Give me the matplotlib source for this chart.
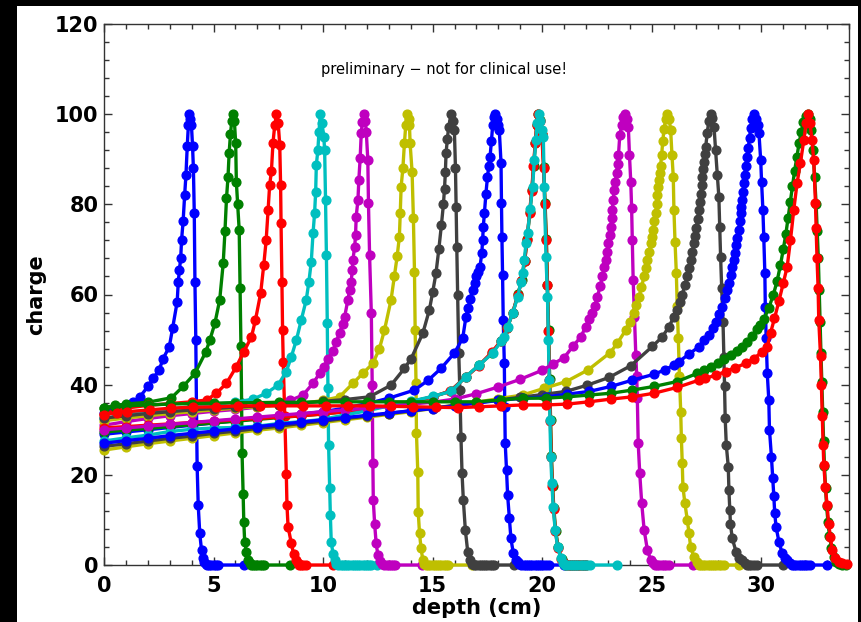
import numpy as np
import matplotlib.pyplot as plt
from matplotlib.patches import Rectangle
from matplotlib.ticker import MultipleLocator

d_b4 = [0.0, 0.5, 1.0, 1.34, 1.64, 2.02, 2.25, 2.52, 2.70, 2.98, 3.13, 3.34, 3.39, 3.44, 3.50,
        3.54, 3.61, 3.68, 3.74, 3.80, 3.85, 3.89, 3.94, 3.99, 4.04, 4.08, 4.12, 4.15, 4.19, 4.22,
        4.25, 4.30, 4.37, 4.45, 4.52, 4.58, 4.65, 4.72, 4.80, 4.90, 5.00, 5.10, 5.20, 6.40]
q_b4 = [33.8, 34.6, 35.4, 36.2, 37.3, 39.7, 41.4, 43.3, 45.8, 48.4, 52.5, 58.4, 62.8, 65.4, 68.0,
        72.1, 76.2, 82.0, 86.5, 93.0, 97.5, 100.0, 99.0, 97.6, 93.0, 88.0, 78.0, 62.8, 49.9, 35.0,
        22.0, 13.3, 7.0, 3.3, 1.5, 0.6, 0.2, 0.0, 0.0, 0.0, 0.0, 0.0, 0.0, 0.0]

d_g6 = [0.0, 0.5, 1.0, 2.0, 3.08, 3.61, 4.15, 4.65, 4.83, 5.06, 5.28, 5.44, 5.52, 5.59, 5.66,
        5.71, 5.77, 5.83, 5.89, 5.95, 6.01, 6.04, 6.10, 6.17, 6.21, 6.25, 6.28, 6.30, 6.35, 6.38,
        6.42, 6.50, 6.58, 6.65, 6.72, 6.80, 6.90, 7.00, 7.10, 7.20, 7.30, 8.50]
q_g6 = [34.8, 35.4, 35.7, 36.1, 37.1, 39.6, 42.5, 47.3, 49.9, 53.6, 58.8, 66.9, 74.0, 81.3, 86.1,
        91.3, 95.5, 98.5, 100.0, 98.5, 93.5, 85.0, 80.0, 74.3, 61.4, 48.6, 36.0, 24.9, 15.7, 9.6,
        5.2, 2.9, 1.2, 0.4, 0.0, 0.0, 0.0, 0.0, 0.0, 0.0, 0.0, 0.0]

d_r8 = [0.0, 0.5, 1.0, 2.0, 3.0, 4.0, 4.68, 5.13, 5.59, 6.04, 6.38, 6.73, 6.91, 7.15, 7.29,
        7.40, 7.49, 7.56, 7.64, 7.71, 7.79, 7.87, 7.95, 8.02, 8.06, 8.08, 8.12, 8.15, 8.18, 8.25,
        8.32, 8.35, 8.40, 8.55, 8.65, 8.78, 8.85, 8.92, 9.00, 9.10, 9.20, 10.45]
q_r8 = [33.5, 34.2, 34.8, 35.4, 35.8, 36.2, 36.6, 38.1, 40.3, 44.0, 47.3, 50.6, 54.3, 60.3, 66.5,
        72.0, 78.8, 84.3, 87.3, 93.5, 97.5, 100.0, 98.0, 93.2, 84.3, 75.8, 62.8, 52.1, 45.0, 33.0,
        20.2, 13.3, 8.5, 4.8, 2.5, 1.1, 0.4, 0.0, 0.0, 0.0, 0.0, 0.0]

d_c10 = [0.0, 1.0, 2.0, 3.0, 4.0, 5.0, 6.0, 6.8, 7.41, 7.94, 8.32, 8.55, 8.78, 9.00, 9.23,
         9.35, 9.46, 9.54, 9.61, 9.66, 9.69, 9.76, 9.81, 9.87, 9.95, 10.03, 10.07, 10.11, 10.15, 10.19,
         10.22, 10.25, 10.30, 10.33, 10.37, 10.45, 10.52, 10.60, 10.70, 10.80, 10.90, 11.00, 11.10, 11.20, 11.30,
         11.40, 11.50, 11.60, 11.70, 11.80, 11.90, 12.00, 12.10, 12.20, 12.45]
q_c10 = [32.5, 33.3, 34.0, 34.6, 35.1, 35.6, 36.1, 36.8, 38.1, 39.9, 42.9, 46.2, 49.9, 54.3, 58.8,
         62.8, 67.3, 73.6, 78.0, 82.8, 88.7, 92.0, 96.0, 100.0, 98.0, 95.0, 92.0, 81.0, 68.8, 53.6,
         39.2, 26.6, 17.0, 11.1, 5.2, 2.5, 1.1, 0.3, 0.0, 0.0, 0.0, 0.0, 0.0, 0.0, 0.0,
         0.0, 0.0, 0.0, 0.0, 0.0, 0.0, 0.0, 0.0, 0.0, 0.0]

d_m12 = [0.0, 1.0, 2.0, 3.0, 4.0, 5.0, 6.0, 7.0, 8.0, 8.5, 9.08, 9.54, 9.84, 10.05, 10.22,
         10.45, 10.60, 10.75, 10.90, 10.98, 11.13, 11.21, 11.28, 11.33, 11.36, 11.44, 11.48, 11.51, 11.59, 11.63,
         11.69, 11.74, 11.79, 11.86, 11.93, 11.97, 12.04, 12.07, 12.12, 12.20, 12.24, 12.27, 12.29, 12.35, 12.42,
         12.50, 12.60, 12.70, 12.80, 12.90, 13.00, 13.10, 13.20, 13.30, 14.50]
q_m12 = [31.0, 31.8, 32.5, 33.1, 33.6, 34.1, 34.5, 35.0, 35.6, 36.5, 37.7, 40.3, 42.5, 44.0, 45.8,
         47.5, 49.5, 51.5, 53.5, 55.0, 58.8, 61.0, 62.8, 65.4, 67.7, 70.6, 73.2, 77.3, 81.0, 85.4,
         90.2, 95.8, 98.3, 100.0, 98.5, 96.1, 89.8, 80.2, 68.8, 55.8, 40.0, 22.6, 14.4, 9.2, 4.8,
         2.2, 0.8, 0.2, 0.0, 0.0, 0.0, 0.0, 0.0, 0.0, 0.0]

d_y14 = [0.0, 1.0, 2.0, 3.0, 4.0, 5.0, 6.0, 7.0, 8.0, 9.0, 10.0, 10.75, 11.36, 11.81, 12.27,
         12.57, 12.80, 13.10, 13.25, 13.38, 13.48, 13.52, 13.56, 13.64, 13.71, 13.77, 13.82, 13.90, 13.94, 13.97,
         14.06, 14.12, 14.17, 14.20, 14.24, 14.26, 14.32, 14.34, 14.40, 14.47, 14.55, 14.62, 14.70, 14.80, 14.90,
         15.00, 15.10, 15.20, 15.30, 15.40, 15.50, 15.60, 15.70, 16.80]
q_y14 = [32.0, 32.6, 33.1, 33.6, 34.0, 34.4, 34.8, 35.1, 35.4, 35.8, 36.5, 37.3, 40.3, 42.5, 44.7,
         48.0, 52.1, 58.8, 64.0, 68.5, 72.8, 78.0, 83.9, 88.0, 93.5, 97.5, 100.0, 99.0, 97.6, 93.5,
         87.2, 76.9, 65.0, 52.1, 40.3, 29.2, 20.7, 11.8, 7.0, 3.7, 1.1, 0.3, 0.0, 0.0, 0.0,
         0.0, 0.0, 0.0, 0.0, 0.0, 0.0, 0.0, 0.0, 0.0]

d_k16 = [0.0, 1.0, 2.0, 3.0, 4.0, 5.0, 6.0, 7.0, 8.0, 9.0, 10.0, 11.0, 12.12, 13.10, 13.71,
         14.02, 14.55, 14.85, 15.00, 15.15, 15.28, 15.40, 15.49, 15.54, 15.58, 15.61, 15.67, 15.73, 15.84, 15.93,
         15.99, 16.04, 16.07, 16.10, 16.14, 16.19, 16.24, 16.29, 16.34, 16.40, 16.49, 16.60, 16.70, 16.80, 16.90,
         17.00, 17.10, 17.20, 17.30, 17.40, 17.50, 17.60, 17.70, 17.80, 18.70]
q_k16 = [32.6, 33.1, 33.6, 34.0, 34.4, 34.7, 35.0, 35.3, 35.6, 35.9, 36.3, 36.7, 37.3, 39.9, 43.6,
         45.8, 51.4, 56.6, 60.5, 64.7, 70.0, 75.5, 80.0, 83.5, 87.2, 91.3, 94.5, 97.2, 100.0, 98.5,
         96.5, 88.0, 79.5, 70.6, 59.9, 47.0, 38.8, 28.5, 20.3, 14.4, 7.8, 2.9, 1.0, 0.3, 0.0,
         0.0, 0.0, 0.0, 0.0, 0.0, 0.0, 0.0, 0.0, 0.0, 0.0]

d_b18 = [0.0, 1.0, 2.0, 3.0, 4.0, 5.0, 6.0, 7.0, 8.0, 9.0, 10.0, 11.0, 12.0, 13.0, 14.17,
         14.80, 15.38, 15.99, 16.37, 16.52, 16.62, 16.72, 16.82, 16.92, 17.00, 17.08, 17.16, 17.24, 17.28, 17.31,
         17.36, 17.43, 17.50, 17.56, 17.62, 17.68, 17.74, 17.80, 17.86, 17.93, 18.00, 18.04, 18.12, 18.14, 18.16,
         18.19, 18.22, 18.27, 18.29, 18.31, 18.37, 18.42, 18.50, 18.57, 18.68, 18.78, 18.88, 18.95, 19.05, 19.15,
         19.25, 19.35, 19.45, 19.55, 19.65, 19.75, 19.85, 19.95, 20.05, 20.15, 20.30, 21.00]
q_b18 = [29.0, 29.5, 30.0, 30.5, 31.0, 31.5, 32.0, 32.5, 33.0, 33.5, 34.0, 34.8, 35.8, 37.0, 38.8,
         41.0, 43.6, 47.0, 50.3, 55.1, 57.0, 59.0, 61.0, 62.5, 64.0, 65.0, 66.2, 69.1, 72.1, 75.0,
         78.0, 82.4, 86.0, 88.5, 90.6, 94.0, 97.6, 99.3, 100.0, 99.0, 97.5, 96.5, 89.1, 80.2, 72.8,
         64.3, 54.3, 44.7, 35.0, 27.0, 21.1, 15.5, 10.4, 5.9, 2.6, 1.2, 0.7, 0.3, 0.0, 0.0,
         0.0, 0.0, 0.0, 0.0, 0.0, 0.0, 0.0, 0.0, 0.0, 0.0, 0.0, 0.0]

d_g20 = [0.0, 1.0, 2.0, 3.0, 4.0, 5.0, 6.0, 7.0, 8.0, 9.0, 10.0, 11.0, 12.0, 13.0, 14.0,
         15.0, 15.82, 16.50, 17.12, 17.72, 18.10, 18.40, 18.66, 18.90, 19.06, 19.20, 19.31, 19.43, 19.53, 19.61,
         19.69, 19.75, 19.81, 19.91, 19.99, 20.07, 20.13, 20.19, 20.24, 20.29, 20.34, 20.38, 20.42, 20.47, 20.53,
         20.61, 20.73, 20.88, 21.00, 21.10, 21.20, 21.30, 21.40, 21.50, 21.60, 21.70, 21.80, 21.90, 22.00]
q_g20 = [29.5, 29.9, 30.3, 30.7, 31.1, 31.5, 31.9, 32.3, 32.7, 33.1, 33.5, 34.0, 34.6, 35.3, 36.2,
         37.3, 38.6, 41.7, 44.3, 47.1, 49.6, 52.6, 56.0, 60.2, 63.2, 67.5, 72.2, 78.2, 83.2, 88.6,
         93.6, 97.6, 100.0, 98.6, 95.6, 88.2, 80.2, 72.2, 62.2, 52.2, 41.2, 32.2, 24.2, 17.6, 12.6,
         7.6, 3.9, 1.3, 0.4, 0.0, 0.0, 0.0, 0.0, 0.0, 0.0, 0.0, 0.0, 0.0, 0.0]

d_r20 = [0.0, 1.0, 2.0, 3.0, 4.0, 5.0, 6.0, 7.0, 8.0, 9.0, 10.0, 11.0, 12.0, 13.0, 14.0,
         15.0, 15.80, 16.50, 17.10, 17.70, 18.10, 18.40, 18.65, 18.90, 19.05, 19.20, 19.30, 19.42, 19.52, 19.60,
         19.68, 19.74, 19.80, 19.90, 19.98, 20.06, 20.12, 20.18, 20.23, 20.28, 20.33, 20.37, 20.41, 20.46, 20.52,
         20.60, 20.72, 20.87, 21.00, 21.10, 21.20, 21.30, 21.40, 21.50, 21.60, 21.70, 21.80, 21.90, 22.00]
q_r20 = [30.4, 30.7, 31.0, 31.3, 31.6, 31.9, 32.2, 32.5, 32.8, 33.1, 33.5, 34.0, 34.6, 35.3, 36.2,
         37.3, 38.6, 41.6, 44.2, 47.2, 49.6, 52.5, 56.0, 60.0, 63.0, 67.5, 72.0, 78.0, 83.0, 88.5,
         93.5, 97.5, 100.0, 98.5, 95.5, 88.0, 80.0, 72.0, 62.0, 52.0, 41.0, 32.0, 24.0, 17.5, 12.5,
         7.5, 3.8, 1.3, 0.4, 0.0, 0.0, 0.0, 0.0, 0.0, 0.0, 0.0, 0.0, 0.0, 0.0]

d_c20 = [0.0, 1.0, 2.0, 3.0, 4.0, 5.0, 6.0, 7.0, 8.0, 9.0, 10.0, 11.0, 12.0, 13.0, 14.0,
         15.0, 15.84, 16.52, 17.13, 17.74, 18.12, 18.27, 18.42, 18.65, 18.88, 19.03, 19.10, 19.18, 19.26, 19.33,
         19.45, 19.56, 19.64, 19.71, 19.77, 19.83, 19.92, 20.00, 20.05, 20.09, 20.17, 20.24, 20.28, 20.32, 20.35,
         20.39, 20.44, 20.50, 20.59, 20.70, 20.85, 20.95, 21.05, 21.15, 21.25, 21.35, 21.45, 21.55, 21.65, 21.75,
         21.85, 21.95, 22.05, 22.20, 23.40]
q_c20 = [27.5, 28.2, 28.8, 29.6, 30.1, 30.4, 30.5, 30.8, 31.4, 31.8, 32.3, 33.3, 34.2, 35.3, 36.3,
         37.4, 38.5, 41.8, 44.4, 47.0, 49.6, 50.5, 52.9, 55.8, 59.5, 62.8, 64.7, 67.7, 71.4, 73.6,
         79.0, 83.9, 89.8, 94.3, 98.0, 100.0, 98.5, 96.5, 95.0, 83.9, 68.4, 59.5, 50.0, 41.0, 32.2,
         24.0, 18.1, 12.9, 7.8, 4.1, 1.5, 0.5, 0.0, 0.0, 0.0, 0.0, 0.0, 0.0, 0.0, 0.0,
         0.0, 0.0, 0.0, 0.0, 0.0]

d_m24 = [0.0, 1.0, 2.0, 3.0, 4.0, 5.0, 6.0, 7.0, 8.0, 9.0, 10.0, 11.0, 12.0, 13.0, 14.0,
         15.0, 16.0, 17.0, 18.0, 19.0, 20.0, 20.5, 21.0, 21.4, 21.76, 21.99, 22.15, 22.29, 22.40, 22.52,
         22.64, 22.75, 22.83, 22.90, 22.96, 23.02, 23.08, 23.13, 23.17, 23.20, 23.24, 23.28, 23.34, 23.39, 23.44,
         23.48, 23.54, 23.63, 23.70, 23.78, 23.86, 23.93, 23.98, 24.04, 24.08, 24.11, 24.15, 24.21, 24.27, 24.31,
         24.34, 24.38, 24.45, 24.54, 24.65, 24.80, 24.95, 25.05, 25.15, 25.25, 25.35, 25.45, 25.55, 25.65, 25.78,
         26.90]
q_m24 = [30.0, 30.4, 30.8, 31.2, 31.6, 32.0, 32.4, 32.8, 33.2, 33.6, 34.0, 34.4, 34.8, 35.2, 35.7,
         36.1, 36.8, 38.0, 39.5, 41.2, 43.2, 44.6, 46.0, 48.5, 50.6, 52.9, 54.5, 55.8, 57.5, 59.5,
         61.8, 64.0, 66.0, 67.7, 69.5, 71.4, 73.2, 75.0, 77.0, 78.8, 81.0, 83.2, 85.0, 86.9, 89.0,
         91.0, 95.4, 97.6, 99.3, 100.0, 99.0, 97.2, 91.0, 85.0, 79.1, 72.1, 63.2, 55.0, 46.6, 42.0,
         37.0, 27.0, 20.3, 13.7, 7.8, 3.3, 1.1, 0.4, 0.0, 0.0, 0.0, 0.0, 0.0, 0.0, 0.0,
         0.0]

d_y26 = [0.0, 1.0, 2.0, 3.0, 4.0, 5.0, 6.0, 7.0, 8.0, 9.0, 10.0, 11.0, 12.0, 13.0, 14.0,
         15.0, 16.0, 17.0, 18.0, 19.1, 20.1, 21.1, 22.1, 23.1, 23.43, 23.81, 24.00, 24.19, 24.30, 24.42,
         24.53, 24.65, 24.72, 24.80, 24.88, 24.95, 25.00, 25.06, 25.12, 25.18, 25.22, 25.25, 25.29, 25.33, 25.36,
         25.40, 25.45, 25.50, 25.56, 25.64, 25.71, 25.79, 25.86, 25.92, 25.98, 26.01, 26.06, 26.12, 26.16, 26.21,
         26.26, 26.32, 26.35, 26.39, 26.42, 26.51, 26.62, 26.70, 26.77, 26.92, 27.05, 27.15, 27.25, 27.35, 27.45,
         27.55, 27.65, 27.75, 27.85, 27.95, 28.05, 28.15, 28.30, 29.00]
q_y26 = [25.5, 26.2, 26.9, 27.5, 28.1, 28.7, 29.3, 29.9, 30.4, 31.0, 31.6, 32.2, 32.8, 33.4, 34.0,
         34.7, 35.4, 36.1, 36.9, 37.7, 39.2, 40.7, 43.3, 47.1, 49.2, 52.1, 54.0, 55.8, 57.6, 59.5,
         61.7, 64.0, 65.8, 67.7, 69.5, 71.4, 72.8, 74.3, 76.2, 78.0, 80.0, 82.1, 83.8, 85.4, 87.0,
         88.6, 91.0, 94.0, 96.8, 99.0, 100.0, 99.0, 96.5, 91.0, 86.1, 78.8, 71.7, 64.7, 57.5, 50.3,
         42.0, 34.0, 28.1, 22.6, 17.4, 13.7, 10.0, 7.0, 4.1, 1.8, 0.6, 0.0, 0.0, 0.0, 0.0,
         0.0, 0.0, 0.0, 0.0, 0.0, 0.0, 0.0, 0.0, 0.0]

d_k28 = [0.0, 1.0, 2.0, 3.0, 4.0, 5.0, 6.0, 7.0, 8.0, 9.0, 10.0, 11.0, 12.0, 13.0, 14.0,
         15.0, 16.0, 17.0, 18.0, 19.0, 20.0, 21.08, 22.06, 23.05, 24.04, 25.03, 25.48, 25.79, 26.00, 26.16,
         26.28, 26.39, 26.50, 26.62, 26.70, 26.77, 26.85, 26.92, 26.97, 27.03, 27.09, 27.15, 27.19, 27.23, 27.27,
         27.30, 27.34, 27.38, 27.42, 27.46, 27.53, 27.60, 27.68, 27.76, 27.84, 27.91, 27.99, 28.06, 28.10, 28.14,
         28.19, 28.25, 28.29, 28.32, 28.35, 28.40, 28.49, 28.52, 28.56, 28.59, 28.67, 28.85, 29.00, 29.13, 29.25,
         29.35, 29.45, 29.55, 29.65, 29.80, 31.00]
q_k28 = [26.3, 26.9, 27.5, 28.1, 28.6, 29.2, 29.7, 30.3, 30.8, 31.4, 31.9, 32.5, 33.0, 33.6, 34.2,
         34.8, 35.4, 36.0, 36.6, 37.2, 37.8, 38.5, 39.9, 41.6, 44.2, 48.5, 50.6, 52.9, 55.0, 56.6,
         58.3, 59.9, 62.0, 64.0, 65.8, 67.7, 69.5, 71.4, 73.0, 74.7, 76.8, 78.8, 80.6, 82.4, 84.2,
         86.1, 87.8, 89.5, 91.2, 92.8, 95.8, 98.5, 100.0, 99.2, 97.2, 92.1, 86.5, 81.7, 75.0, 68.4,
         61.4, 54.0, 46.2, 39.6, 32.5, 26.6, 21.8, 16.6, 12.2, 9.2, 5.9, 2.9, 1.6, 1.1, 0.4,
         0.0, 0.0, 0.0, 0.0, 0.0, 0.0]

d_b30 = [0.0, 1.0, 2.0, 3.0, 4.0, 5.0, 6.0, 7.0, 8.0, 9.0, 10.0, 11.0, 12.0, 13.0, 14.0,
         15.0, 16.0, 17.0, 18.0, 19.1, 20.17, 21.15, 22.14, 23.13, 24.11, 25.1, 25.6, 26.0, 26.24, 26.7,
         27.15, 27.4, 27.61, 27.8, 27.91, 28.05, 28.21, 28.33, 28.44, 28.52, 28.60, 28.68, 28.75, 28.80, 28.85,
         28.91, 28.97, 29.01, 29.05, 29.09, 29.13, 29.17, 29.20, 29.24, 29.28, 29.34, 29.40, 29.46, 29.51, 29.58,
         29.66, 29.75, 29.83, 29.89, 29.97, 30.01, 30.07, 30.11, 30.16, 30.18, 30.22, 30.27, 30.34, 30.37, 30.46,
         30.52, 30.57, 30.61, 30.67, 30.80, 30.95, 31.08, 31.18, 31.30, 31.40, 31.50, 31.60, 31.70, 31.80, 31.90,
         32.00, 32.10, 32.20, 33.00]
q_b30 = [27.0, 27.6, 28.1, 28.7, 29.2, 29.7, 30.2, 30.7, 31.2, 31.7, 32.2, 32.7, 33.2, 33.7, 34.2,
         34.7, 35.3, 35.9, 36.5, 37.0, 37.3, 37.9, 38.5, 39.6, 41.0, 42.3, 43.3, 44.3, 45.1, 46.8,
         48.4, 49.8, 51.0, 52.5, 54.0, 55.6, 57.3, 59.2, 61.0, 62.6, 64.3, 66.0, 67.7, 69.3, 71.0,
         72.6, 74.3, 76.2, 78.0, 79.5, 81.0, 82.8, 84.7, 86.5, 88.4, 90.4, 92.4, 94.7, 96.9, 99.0,
         100.0, 99.0, 97.5, 95.8, 89.8, 85.0, 78.8, 72.8, 64.7, 57.3, 50.3, 42.5, 36.6, 30.0, 24.0,
         19.2, 15.2, 11.5, 8.5, 5.2, 2.6, 1.6, 1.1, 0.4, 0.0, 0.0, 0.0, 0.0, 0.0, 0.0,
         0.0, 0.0, 0.0, 0.0]

d_g32 = [0.0, 0.5, 1.0, 2.0, 3.0, 4.0, 5.0, 6.0, 7.0, 8.0, 9.0, 10.0, 11.0, 12.0, 13.0,
         14.0, 15.0, 16.0, 17.0, 18.12, 19.1, 20.17, 21.15, 22.14, 23.13, 24.11, 25.1, 26.16, 27.07, 27.4,
         27.7, 28.0, 28.3, 28.6, 28.9, 29.13, 29.35, 29.58, 29.8, 29.95, 30.11, 30.34, 30.55, 30.72, 30.87,
         31.0, 31.12, 31.22, 31.32, 31.42, 31.52, 31.62, 31.72, 31.82, 31.92, 32.02, 32.12, 32.2, 32.28, 32.36,
         32.43, 32.5, 32.55, 32.6, 32.64, 32.68, 32.72, 32.76, 32.8, 32.84, 32.88, 32.93, 32.98, 33.04, 33.11,
         33.2, 33.3, 33.42, 33.55, 33.7, 33.85]
q_g32 = [34.8, 35.1, 35.3, 35.5, 35.7, 35.8, 35.9, 36.0, 36.0, 36.1, 36.1, 36.2, 36.2, 36.2, 36.2,
         36.2, 36.2, 36.2, 36.2, 36.6, 37.0, 37.0, 37.3, 37.7, 38.1, 38.8, 39.6, 40.7, 42.5, 43.2,
         44.0, 44.8, 45.6, 46.5, 47.4, 48.4, 49.5, 50.8, 52.3, 53.2, 54.5, 57.0, 60.0, 63.0, 66.5,
         70.0, 73.5, 77.0, 80.5, 84.0, 87.5, 90.5, 93.5, 96.0, 98.2, 99.5, 100.0, 99.0, 96.5, 92.0,
         86.0, 80.0, 74.0, 68.0, 61.0, 54.0, 47.0, 40.5, 34.0, 27.5, 22.0, 17.0, 13.0, 9.5, 6.5,
         3.8, 1.8, 0.7, 0.2, 0.0, 0.0]

d_r32 = [0.0, 0.58, 1.03, 2.09, 3.08, 4.07, 5.13, 6.12, 7.10, 8.10, 9.08, 10.14, 11.13, 12.12, 13.10,
         14.09, 15.15, 16.14, 17.13, 18.12, 19.10, 20.17, 21.15, 22.14, 23.13, 24.11, 25.10, 26.16, 27.15, 27.45,
         27.91, 28.37, 28.82, 29.28, 29.66, 30.04, 30.27, 30.42, 30.60, 30.80, 31.00, 31.18, 31.33, 31.48, 31.63,
         31.78, 31.94, 32.04, 32.13, 32.22, 32.31, 32.39, 32.47, 32.50, 32.54, 32.59, 32.62, 32.70, 32.74, 32.78,
         32.82, 32.85, 32.92, 33.00, 33.07, 33.15, 33.23, 33.35, 33.53, 33.70, 33.90]
q_r32 = [33.3, 33.8, 34.0, 34.4, 34.8, 35.0, 35.1, 35.3, 35.3, 35.3, 35.3, 35.3, 35.3, 35.3, 35.2,
         35.1, 35.0, 34.9, 35.1, 35.3, 35.5, 35.5, 35.7, 36.2, 36.8, 37.3, 38.1, 39.4, 41.0, 41.4,
         42.1, 42.9, 43.8, 44.7, 45.8, 47.3, 48.4, 51.5, 54.7, 58.5, 62.5, 66.2, 72.1, 78.8, 84.7,
         89.1, 94.3, 98.0, 100.0, 98.0, 94.3, 89.8, 80.2, 74.7, 68.0, 61.4, 54.3, 46.4, 39.9, 33.1,
         26.6, 22.2, 17.4, 13.3, 9.2, 6.3, 3.3, 1.5, 0.7, 0.4, 0.3]

curves = [
    (d_b4, q_b4, '#0000ff'), (d_g6, q_g6, '#008000'), (d_r8, q_r8, '#ff0000'),
    (d_c10, q_c10, '#00bfbf'), (d_m12, q_m12, '#bf00bf'), (d_y14, q_y14, '#bfbf00'),
    (d_k16, q_k16, '#404040'), (d_b18, q_b18, '#0000ff'), (d_g20, q_g20, '#008000'),
    (d_r20, q_r20, '#ff0000'), (d_c20, q_c20, '#00bfbf'), (d_m24, q_m24, '#bf00bf'),
    (d_y26, q_y26, '#bfbf00'), (d_k28, q_k28, '#404040'), (d_b30, q_b30, '#0000ff'),
    (d_g32, q_g32, '#008000'), (d_r32, q_r32, '#ff0000'),
]

fig = plt.figure(figsize=(8.62, 6.22), dpi=100, facecolor='black')
fig.patches.append(Rectangle((17 / 862, 0), 841 / 862, 616 / 622, transform=fig.transFigure,
                             facecolor='white', edgecolor='none', zorder=-1))
ax = fig.add_axes([104 / 862, 57 / 622, 745 / 862, 541 / 622])

for d, q, c in curves:
    ax.plot(d, q, '-o', color=c, lw=2.4, ms=6.3, clip_on=False, zorder=3)

ax.set_xlim(0, 34)
ax.set_ylim(0, 120)
ax.xaxis.set_major_locator(MultipleLocator(5))
ax.xaxis.set_minor_locator(MultipleLocator(1))
ax.yaxis.set_major_locator(MultipleLocator(20))
ax.yaxis.set_minor_locator(MultipleLocator(4))
ax.tick_params(which='both', direction='in', top=True, right=True, color='#333333',
               width=1, labelsize=15)
ax.tick_params(which='major', length=6)
ax.tick_params(which='minor', length=3.5)
ax.tick_params(axis='x', pad=8)
ax.tick_params(axis='y', pad=4)
for lbl in ax.get_xticklabels() + ax.get_yticklabels():
    lbl.set_fontweight('bold')
for sp in ax.spines.values():
    sp.set_color('#333333')
    sp.set_linewidth(1.0)

ax.set_xlabel('depth (cm)', fontsize=15, fontweight='bold')
ax.set_ylabel('charge', fontsize=15, fontweight='bold')
ax.xaxis.set_label_coords(0.5, -0.061)
ax.yaxis.set_label_coords(-0.078, 0.5)
ax.text(0.457, 0.915, 'preliminary \u2212 not for clinical use!', transform=ax.transAxes,
        ha='center', va='center', fontsize=10.5)

fig.savefig('out.png', dpi=100, facecolor=fig.get_facecolor())
